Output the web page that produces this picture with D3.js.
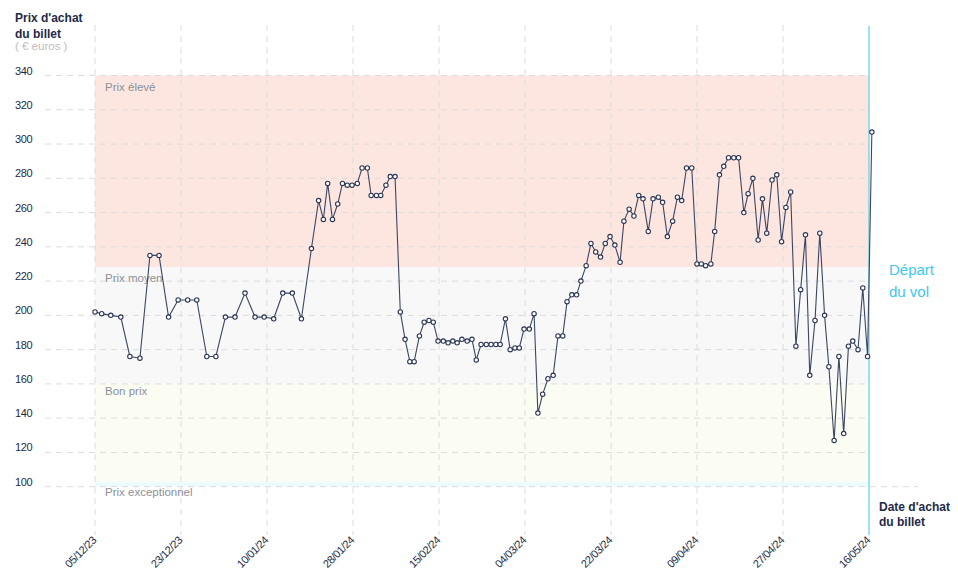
<!DOCTYPE html>
<html><head><meta charset="utf-8">
<script src="https://cdn.jsdelivr.net/npm/d3@7/dist/d3.min.js"></script>
<style>
html,body{margin:0;padding:0;background:#fff;}
svg{display:block;font-family:"Liberation Sans",Arial,sans-serif;}
</style></head>
<body><svg id="chart" width="958" height="585"></svg>
<script>
// Day offsets from 05/12/23
const days = [0,1.4,3.3,5.4,7.3,9.4,11.5,13.4,15.4,17.4,19.4,21.3,23.4,25.3,27.3,29.3,31.4,33.5,35.4,37.4,39.3,41.3,43.2,45.3,
46.8,47.8,48.7,49.7,50.8,51.8,52.8,53.8,54.9,55.9,57,57.8,58.9,59.8,60.9,61.8,62.8,63.9,64.9,65.9,66.8,67.9,68.9,69.9,70.8,
71.8,72.9,73.9,74.9,75.8,76.8,77.9,78.9,79.8,80.8,81.9,82.9,83.9,84.8,85.9,86.9,87.9,88.8,89.8,90.9,91.9,92.7,93.7,94.8,95.9,
96.9,97.9,98.8,99.8,100.8,101.7,102.8,103.8,104.8,105.8,106.8,107.8,108.8,109.9,110.7,111.8,112.8,113.8,114.7,115.8,116.8,
117.9,118.8,119.8,120.9,121.9,122.8,123.8,124.9,126,126.9,127.8,128.9,129.7,130.7,131.6,132.6,133.7,134.7,135.8,136.7,137.7,
138.8,139.7,140.6,141.7,142.7,143.7,144.6,145.6,146.7,147.7,148.7,149.6,150.7,151.7,152.7,153.6,154.7,155.7,156.7,157.7,
158.6,159.7,160.7,161.7,162.6];
const prices = [202,201,200,199,176,175,235,235,199,209,209,209,176,176,199,199,213,199,199,198,213,213,198,239,
267,256,277,256,265,277,276,276,277,286,286,270,270,270,276,281,281,202,186,173,173,188,196,197,196,
185,185,184,185,184,186,185,186,174,183,183,183,183,183,198,180,181,181,192,192,201,143,154,163,165,
188,188,208,212,212,220,229,242,237,234,242,246,241,231,255,262,258,270,268,249,268,
269,266,246,255,269,267,286,286,230,230,229,230,249,282,287,292,292,292,260,271,280,
244,268,248,279,282,243,263,272,182,215,247,165,197,248,200,170,127,176,131,182,
185,180,216,176,307];

const tickDays = [0,18,36,54,72,90,108,126,144,162];
const tickLabels = ["05/12/23","23/12/23","10/01/24","28/01/24","15/02/24","04/03/24","22/03/24","09/04/24","27/04/24","16/05/24"];
const yTicks = [100,120,140,160,180,200,220,240,260,280,300,320,340];

const bandNames = ["Prix élevé","Prix moyen","Bon prix","Prix exceptionnel"];
const bandTop = [340,228,160.5,103];
const bandBottom = [228,160.5,103,100];
const bandColors = ["#fde6e0","#f8f8f8","#fbfcf2","#eefbfd"];

const svg = d3.select("#chart");
const x = d3.scaleLinear().domain([0,162]).range([95,869]);
const y = d3.scaleLinear().domain([100,340]).range([486.7,75.5]);
const navy = "#1e2a47";

// bands
svg.append("g").selectAll("rect").data(bandNames).join("rect")
  .attr("x", x(0)).attr("width", x(162)-x(0))
  .attr("y", (d,i)=>y(bandTop[i])).attr("height",(d,i)=>y(bandBottom[i])-y(bandTop[i]))
  .attr("fill",(d,i)=>bandColors[i]);

// horizontal grid
const gy = svg.append("g");
gy.selectAll("line").data(yTicks).join("line")
  .attr("x1",45).attr("x2",d=>d===100?918:x(162))
  .attr("y1",d=>y(d)).attr("y2",d=>y(d))
  .attr("stroke","#dcdcdc").attr("stroke-width",1).attr("stroke-dasharray","6,5");
gy.selectAll("text").data(yTicks).join("text")
  .attr("x",15).attr("y",d=>y(d)-1).text(d=>d)
  .attr("font-size",11).attr("fill",navy).attr("letter-spacing","-0.4");

// vertical grid
svg.append("g").selectAll("line").data(tickDays.slice(0,-1)).join("line")
  .attr("x1",d=>x(d)).attr("x2",d=>x(d)).attr("y1",25).attr("y2",535)
  .attr("stroke","#dcdcdc").attr("stroke-width",1).attr("stroke-dasharray","6,5");

// band labels
svg.append("g").selectAll("text").data(bandNames).join("text")
  .attr("x",105).attr("y",(d,i)=> i===3 ? y(100)+9 : y(bandTop[i])+(i===2?12:15))
  .text(d=>d).attr("font-size",11.5).attr("fill","#8c9099");

// x tick labels
svg.append("g").selectAll("text").data(tickDays).join("text")
  .attr("transform",(d)=>`translate(${x(d)+2},${541}) rotate(-45)`)
  .attr("text-anchor","end").text((d,i)=>tickLabels[i])
  .attr("font-size",11).attr("fill",navy).attr("letter-spacing","-0.5");

// departure line
svg.append("line").attr("x1",x(162)).attr("x2",x(162)).attr("y1",26).attr("y2",535)
  .attr("stroke","#3cc8ee").attr("stroke-width",1);

// line + markers
const pts = days.map((d,i)=>[d,prices[i]]);
svg.append("path").datum(pts)
  .attr("d", d3.line().x(d=>x(d[0])).y(d=>y(d[1])))
  .attr("fill","none").attr("stroke","#3b4663").attr("stroke-width",1.1);
svg.append("g").selectAll("circle").data(pts).join("circle")
  .attr("cx",d=>x(d[0])).attr("cy",d=>y(d[1])).attr("r",2.2)
  .attr("fill","#fff").attr("stroke","#2b3553").attr("stroke-width",1.1);

// titles
const t = svg.append("g").attr("font-weight","bold").attr("font-size",12).attr("fill",navy);
t.append("text").attr("x",15).attr("y",22).text("Prix d'achat");
t.append("text").attr("x",15).attr("y",38).text("du billet");
svg.append("text").attr("x",15).attr("y",50).text("( € euros )").attr("font-size",11.5).attr("fill","#bdbdbd");
t.append("text").attr("x",879).attr("y",511).text("Date d'achat");
t.append("text").attr("x",879).attr("y",526).text("du billet");
svg.append("text").attr("x",889).attr("y",275).text("Départ").attr("font-size",15).attr("fill","#3cc8ee");
svg.append("text").attr("x",889).attr("y",297).text("du vol").attr("font-size",15).attr("fill","#3cc8ee");
</script></body></html>
